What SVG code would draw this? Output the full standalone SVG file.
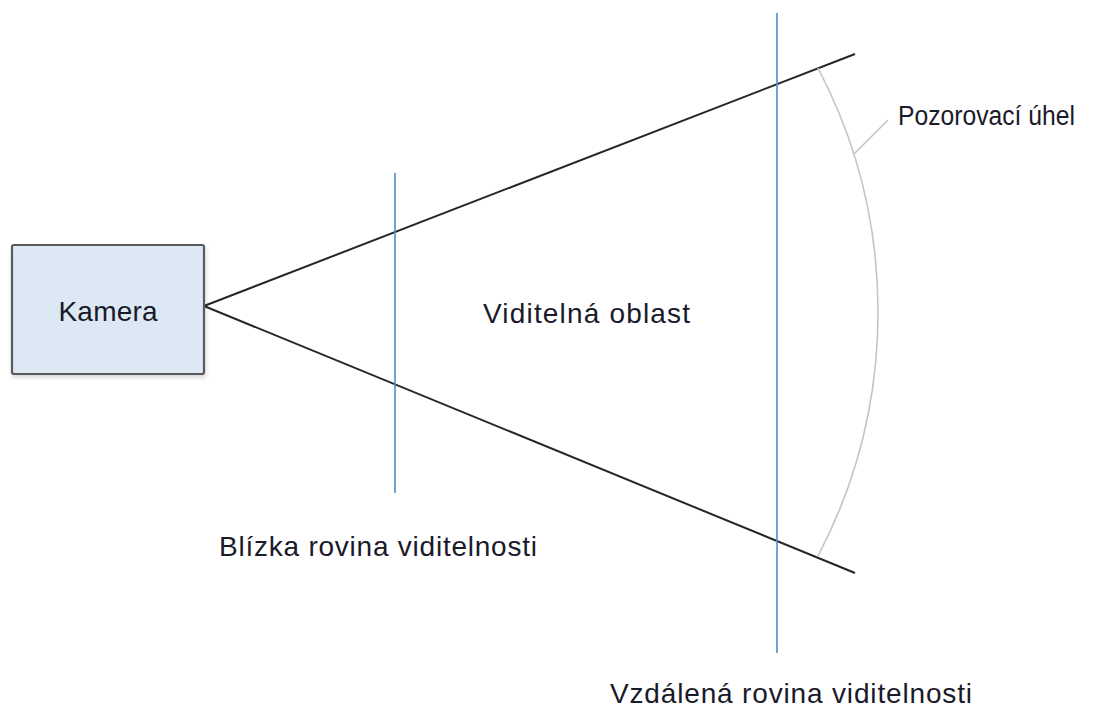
<svg xmlns="http://www.w3.org/2000/svg" width="1108" height="708" viewBox="0 0 1108 708">
<style>
text{font-family:"Liberation Sans",Arial,sans-serif;font-size:28px;fill:#1a1a2a}
.frust{stroke:#262626;stroke-width:2;fill:none}
.plane{stroke:#4f8ccb;stroke-width:1.6;fill:none}
.angle{stroke:#c4c4c4;stroke-width:1.6;fill:none}
</style>
<defs>
<filter id="sh" x="-10%" y="-10%" width="130%" height="130%">
<feGaussianBlur in="SourceAlpha" stdDeviation="2"/>
<feOffset dx="1" dy="3"/>
<feComponentTransfer><feFuncA type="linear" slope="0.15"/></feComponentTransfer>
<feMerge><feMergeNode/><feMergeNode in="SourceGraphic"/></feMerge>
</filter>
</defs>
<rect width="1108" height="708" fill="#ffffff"/>
<g id="connectors">
<line class="frust" x1="204" y1="306" x2="855" y2="54"/>
<line class="frust" x1="204" y1="306" x2="855" y2="573"/>
<line class="plane" x1="395" y1="173" x2="395" y2="493"/>
<line class="plane" x1="777" y1="13" x2="777" y2="653"/>
<path class="angle" d="M818,68 A526,526 0 0 1 818,556"/>
<line class="angle" x1="854" y1="154" x2="888" y2="120"/>
</g>
<g id="kamera">
<rect x="12" y="245" width="192" height="129" rx="2" fill="#dde8f5" stroke="#5a5a5a" stroke-width="2.2" filter="url(#sh)"/>
<text x="108" y="321" text-anchor="middle" textLength="99" lengthAdjust="spacing">Kamera</text>
</g>
<g id="viditelna-oblast">
<text x="483" y="323" textLength="207" lengthAdjust="spacing">Viditelná oblast</text>
</g>
<g id="pozorovaci-uhel">
<text x="898" y="125" style="font-size:27px" textLength="177" lengthAdjust="spacingAndGlyphs">Pozorovací úhel</text>
</g>
<g id="blizka-rovina">
<text x="219" y="556" textLength="318" lengthAdjust="spacing">Blízka rovina viditelnosti</text>
</g>
<g id="vzdalena-rovina">
<text x="610" y="703" textLength="362" lengthAdjust="spacing">Vzdálená rovina viditelnosti</text>
</g>
</svg>
